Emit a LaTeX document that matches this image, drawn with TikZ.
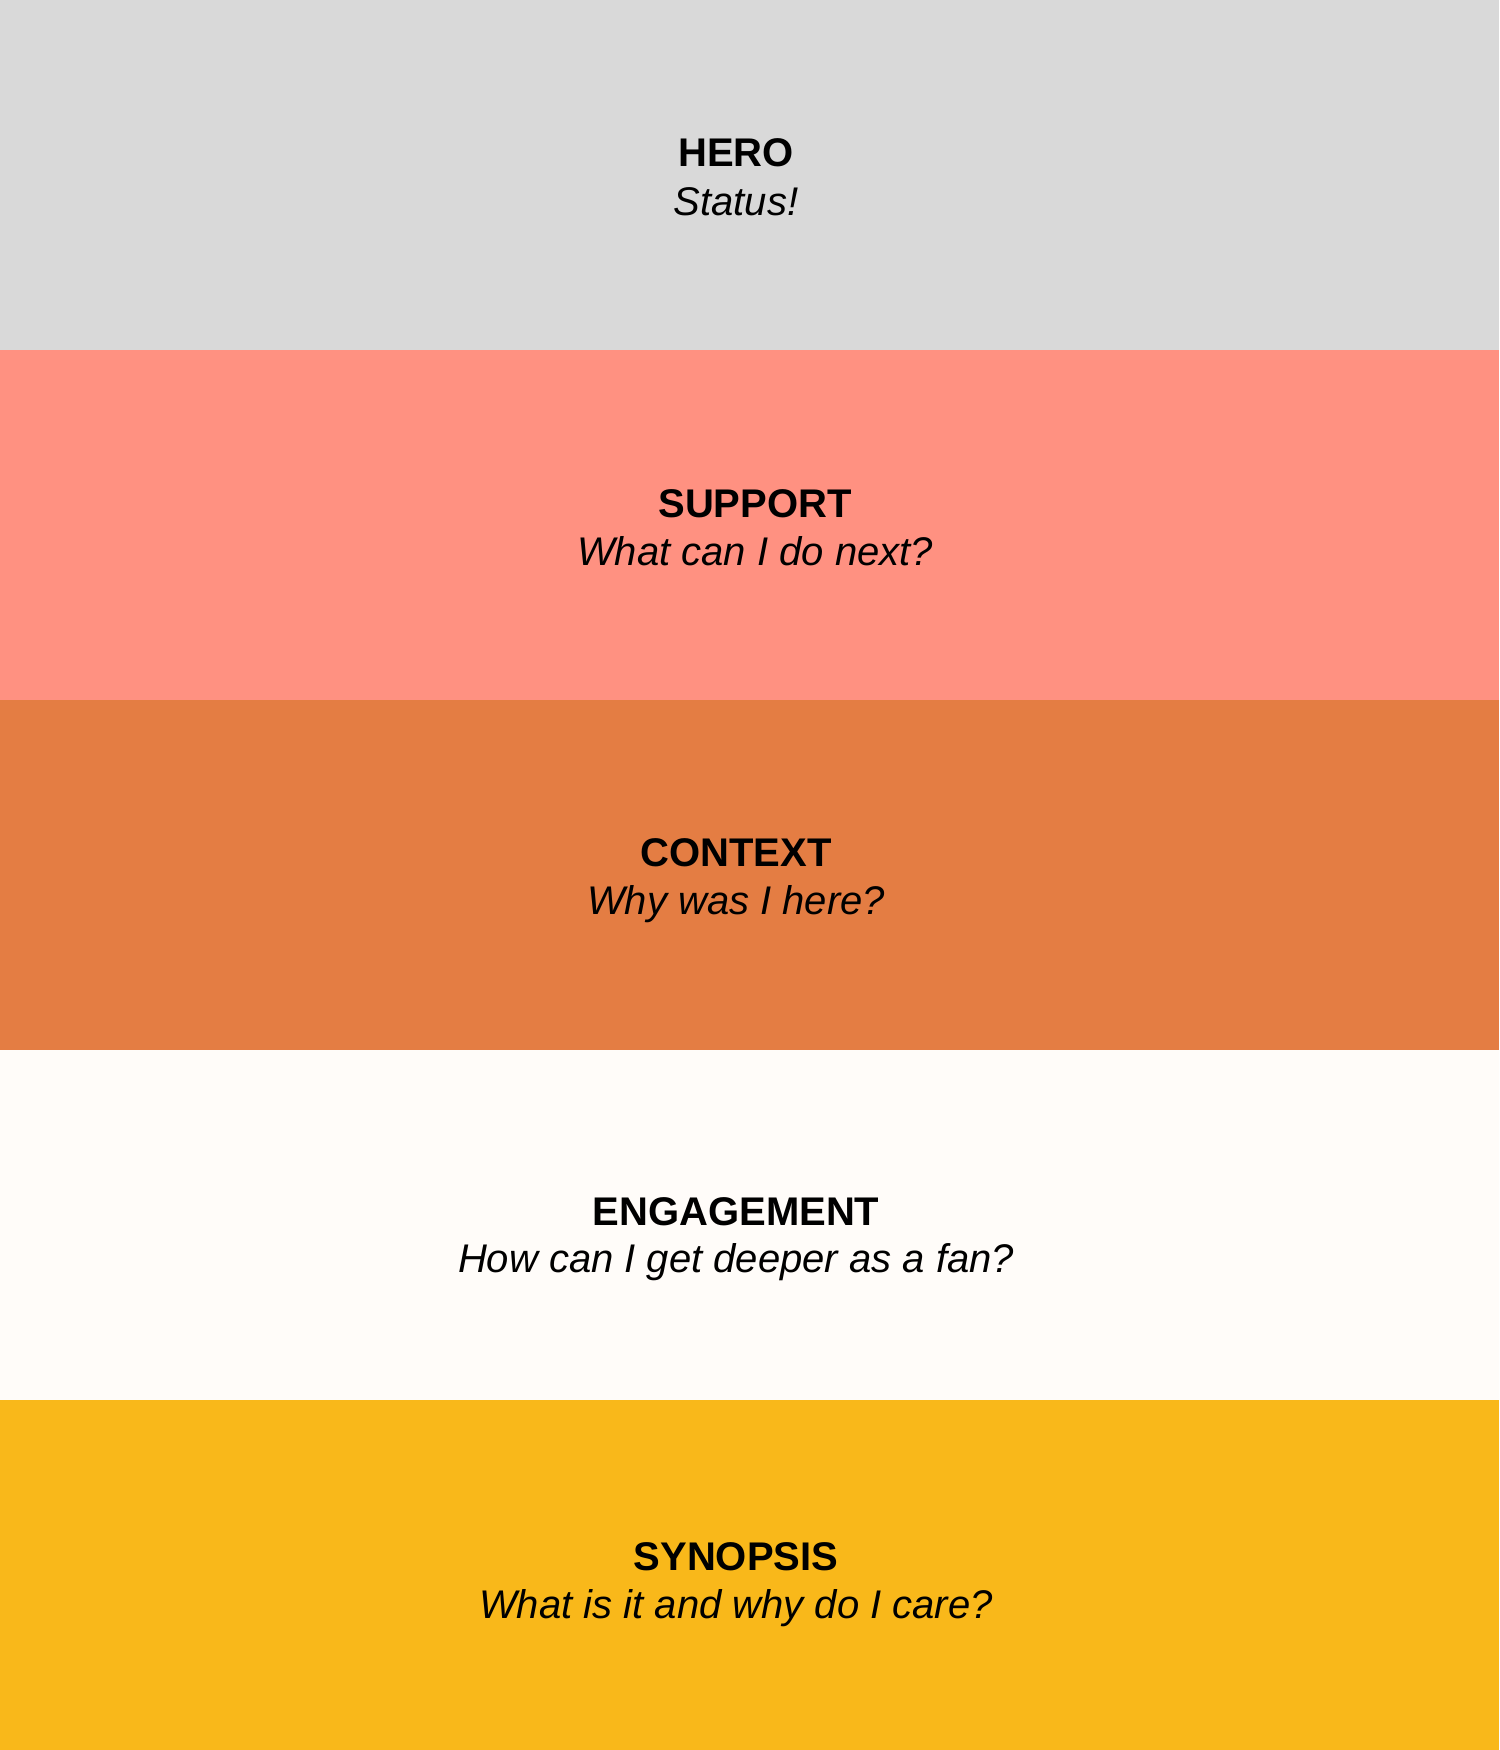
\documentclass[tikz,border=0pt]{standalone}
\usepackage{fontspec}
\setmainfont{Liberation Sans}
\definecolor{herogray}{HTML}{D9D9D9}
\definecolor{supportsalmon}{HTML}{FF9181}
\definecolor{contextorange}{HTML}{E47D43}
\definecolor{engagewhite}{HTML}{FFFCF9}
\definecolor{synopsisyellow}{HTML}{F9B81A}
\begin{document}
\begin{tikzpicture}[x=1pt,y=-1pt,
  band/.style={draw=none},
  title/.style={anchor=base,inner sep=0pt,font=\fontsize{40}{48}\selectfont\bfseries},
  subtitle/.style={anchor=base,inner sep=0pt,font=\fontsize{40}{48}\selectfont\itshape}]
\useasboundingbox (0,0) rectangle (1499,1750);
\fill[herogray] (0,0) rectangle (1499,350);
\fill[supportsalmon] (0,350) rectangle (1499,700);
\fill[contextorange] (0,700) rectangle (1499,1050);
\fill[engagewhite] (0,1050) rectangle (1499,1400);
\fill[synopsisyellow] (0,1400) rectangle (1499,1750);
\node[title] (hero) at (736,166) {HERO};
\node[subtitle] (herosub) at (736,215) {Status!};
\node[title] (support) at (755,517) {SUPPORT};
\node[subtitle] (supportsub) at (755,565) {What can I do next?};
\node[title] (context) at (736,866) {CONTEXT};
\node[subtitle] (contextsub) at (736,914) {Why was I here?};
\node[title] (engagement) at (736,1225) {ENGAGEMENT};
\node[subtitle] (engagementsub) at (736,1272) {How can I get deeper as a fan?};
\node[title] (synopsis) at (736,1570) {SYNOPSIS};
\node[subtitle] (synopsissub) at (736,1618) {What is it and why do I care?};
\end{tikzpicture}
\end{document}
